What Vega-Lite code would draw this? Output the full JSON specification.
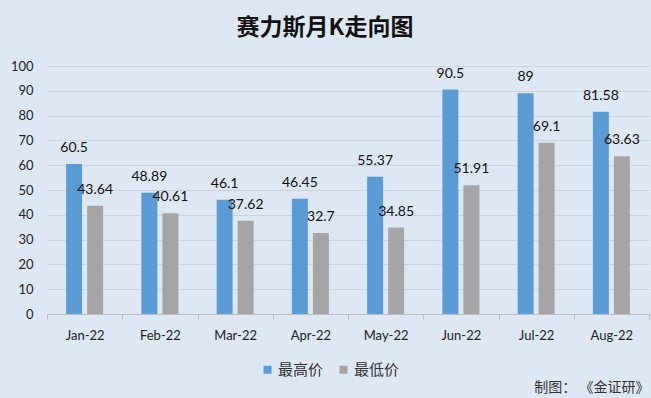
{
  "$schema": "https://vega.github.io/schema/vega-lite/v6.json",
  "width": 602,
  "height": 248,
  "autosize": {"type": "none"},
  "padding": {"left": 47, "top": 66, "right": 2, "bottom": 84},
  "background": "#DDE8F4",
  "config": {
    "view": {"stroke": null},
    "font": "Lato"
  },
  "title": {
    "text": "赛力斯月K走向图",
    "font": "Noto Sans CJK SC",
    "fontSize": 23,
    "fontWeight": "bold",
    "color": "#111111",
    "anchor": "middle",
    "frame": "group",
    "dx": -23,
    "baseline": "alphabetic",
    "offset": 2
  },
  "data": {
    "values": [
      {"month": "Jan-22", "series": "最高价", "value": 60.5},
      {"month": "Jan-22", "series": "最低价", "value": 43.64},
      {"month": "Feb-22", "series": "最高价", "value": 48.89},
      {"month": "Feb-22", "series": "最低价", "value": 40.61},
      {"month": "Mar-22", "series": "最高价", "value": 46.1},
      {"month": "Mar-22", "series": "最低价", "value": 37.62},
      {"month": "Apr-22", "series": "最高价", "value": 46.45},
      {"month": "Apr-22", "series": "最低价", "value": 32.7},
      {"month": "May-22", "series": "最高价", "value": 55.37},
      {"month": "May-22", "series": "最低价", "value": 34.85},
      {"month": "Jun-22", "series": "最高价", "value": 90.5},
      {"month": "Jun-22", "series": "最低价", "value": 51.91},
      {"month": "Jul-22", "series": "最高价", "value": 89},
      {"month": "Jul-22", "series": "最低价", "value": 69.1},
      {"month": "Aug-22", "series": "最高价", "value": 81.58},
      {"month": "Aug-22", "series": "最低价", "value": 63.63}
    ]
  },
  "encoding": {
    "x": {
      "field": "month",
      "type": "nominal",
      "sort": ["Jan-22","Feb-22","Mar-22","Apr-22","May-22","Jun-22","Jul-22","Aug-22"],
      "scale": {"paddingInner": 0, "paddingOuter": 0},
      "axis": {
        "title": "制图：  《金证研》",
        "titleFont": "Noto Sans CJK SC",
        "titleFontSize": 14,
        "titleFontWeight": "normal",
        "titleColor": "#333333",
        "titleAnchor": "end",
        "titleAlign": "right",
        "titleBaseline": "alphabetic",
        "titleX": 602,
        "titleY": 77,
        "labelAngle": 0,
        "labelFontSize": 13,
        "labelColor": "#222222",
        "labelPadding": 10,
        "domainColor": "#BFBFBF",
        "tickColor": "#BFBFBF",
        "tickSize": 5,
        "tickBand": "extent"
      }
    },
    "xOffset": {
      "field": "series",
      "type": "nominal",
      "sort": ["最高价", "最低价"],
      "scale": {"paddingInner": 0.24, "paddingOuter": 0.91}
    },
    "y": {
      "field": "value",
      "type": "quantitative",
      "scale": {"domain": [0, 100]},
      "axis": {
        "title": null,
        "values": [0,10,20,30,40,50,60,70,80,90,100],
        "labelOverlap": false,
        "domain": false,
        "ticks": false,
        "labelFontSize": 13,
        "labelColor": "#222222",
        "labelPadding": 14,
        "gridColor": "#CCD3DB"
      }
    }
  },
  "layer": [
    {
      "mark": {"type": "bar"},
      "encoding": {
        "color": {
          "field": "series",
          "type": "nominal",
          "sort": ["最高价", "最低价"],
          "scale": {"domain": ["最高价", "最低价"], "range": ["#5B9BD5", "#A5A5A5"]},
          "legend": {
            "title": null,
            "orient": "none",
            "direction": "horizontal",
            "legendX": 213,
            "legendY": 296,
            "symbolType": "square",
            "symbolSize": 64,
            "symbolStrokeWidth": 0,
            "labelFont": "Noto Sans CJK SC",
            "labelFontSize": 15,
            "labelColor": "#333333",
            "labelOffset": 3,
            "columnPadding": 12
          }
        }
      }
    },
    {
      "mark": {"type": "text", "baseline": "alphabetic", "dy": -12, "fontSize": 14, "color": "#111111"},
      "encoding": {
        "text": {"field": "value", "type": "nominal"}
      }
    }
  ]
}
